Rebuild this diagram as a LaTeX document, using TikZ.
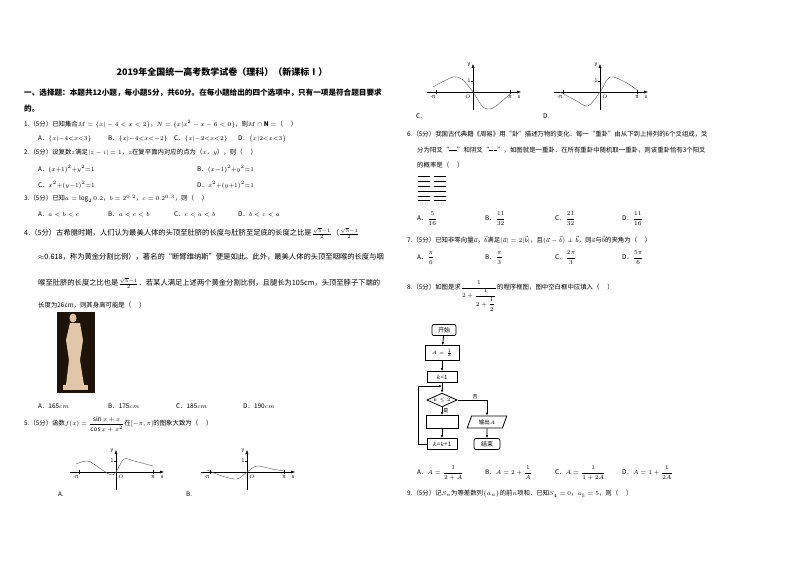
\documentclass[tikz,border=0pt]{standalone}
\usepackage{fontspec}
\usepackage{amsmath}
\setmainfont{Noto Sans CJK SC}
\usetikzlibrary{shapes.geometric,arrows.meta}
\tikzset{
 t/.style={anchor=west,inner sep=0pt,font=\fontsize{6.4pt}{7pt}\selectfont},
 tw/.style={anchor=west,inner sep=0pt,font=\fontsize{7.3pt}{8pt}\selectfont},
 bx/.style={draw,thick,minimum height=14pt,inner sep=1pt,font=\fontsize{6pt}{7pt}\selectfont},
 ar/.style={-{Latex[length=3pt,width=2.5pt]},thick},
 ax/.style={-{Latex[length=4pt,width=3pt]},thin},
 cv/.style={thin,gray!70!black,smooth}
}
\begin{document}
\begin{tikzpicture}[x=1pt,y=-1pt]
\fill[white] (0,0) rectangle (800,565);
\useasboundingbox (0,0) rectangle (800,565);
\node[anchor=center,font=\bfseries\fontsize{9pt}{10pt}\selectfont] (title) at (222,72) {2019年全国统一高考数学试卷（理科）（新课标Ⅰ）};
\node[t,font=\bfseries\fontsize{7.6pt}{8pt}\selectfont] (h1) at (24,93) {一、选择题：本题共12小题，每小题5分，共60分。在每小题给出的四个选项中，只有一项是符合题目要求};
\node[t,font=\bfseries\fontsize{7.6pt}{8pt}\selectfont] (h2) at (24,109) {的。};
\node[t] (q1) at (24,124) {1.（5分）已知集合$M=\{x|-4<x<2\}$，$N=\{x|x^2-x-6<0\}$，则$M\cap\mathbf{N}=$（\quad\ ）};
\node[t] (q1a) at (38,139) {A．$\{x|{-}4{<}x{<}3\}$};
\node[t] (q1b) at (108,139) {B．$\{x|{-}4{<}x{<}{-}2\}$};
\node[t] (q1c) at (174,139) {C．$\{x|{-}2{<}x{<}2\}$};
\node[t] (q1d) at (238,139) {D．$\{x|2{<}x{<}3\}$};
\node[t] (q2) at (24,153) {2.（5分）设复数$z$满足$|z-i|=1$，$z$在复平面内对应的点为（$x$，$y$），则（\quad\ ）};
\node[t] (q2a) at (38,169) {A．$(x{+}1)^2{+}y^2{=}1$};
\node[t] (q2b) at (197,169) {B．$(x{-}1)^2{+}y^2{=}1$};
\node[t] (q2c) at (38,185) {C．$x^2{+}(y{-}1)^2{=}1$};
\node[t] (q2d) at (197,185) {D．$x^2{+}(y{+}1)^2{=}1$};
\node[t] (q3) at (24,199) {3.（5分）已知$a=\log_2 0.2$，$b=2^{0.2}$，$c=0.2^{0.3}$，则（\quad\ ）};
\node[t] (q3a) at (38,214) {A．$a<b<c$};
\node[t] (q3b) at (108,214) {B．$a<c<b$};
\node[t] (q3c) at (174,214) {C．$c<a<b$};
\node[t] (q3d) at (238,214) {D．$b<c<a$};
\node[tw] (q4) at (24,233) {4.（5分）古希腊时期，人们认为最美人体的头顶至肚脐的长度与肚脐至足底的长度之比是$\frac{\sqrt5-1}{2}$（$\frac{\sqrt5-1}{2}$};
\node[tw] (q4b) at (38,257) {$\approx$0.618，称为黄金分割比例），著名的“断臂维纳斯”便是如此。此外，最美人体的头顶至咽喉的长度与咽};
\node[tw] (q4c) at (38,283) {喉至肚脐的长度之比也是$\frac{\sqrt5-1}{2}$．若某人满足上述两个黄金分割比例，且腿长为105cm，头顶至脖子下端的};
\node[t] (q4d) at (38,305) {长度为26cm，则其身高可能是（\quad\ ）};
\fill[black!85!brown] (57,312) rectangle (95,393);
\fill[brown!45!white] (73,318) ellipse (3.5 and 4.5);
\fill[brown!45!white] (70,323) -- (80,323) -- (83,340) -- (80,360) -- (84,385) -- (66,385) -- (69,360) -- (66,340) -- cycle;
\fill[brown!45!white] (63,385) rectangle (88,390);
\node[t] (q4a1) at (38,406) {A．165$cm$};
\node[t] (q4a2) at (108,406) {B．175$cm$};
\node[t] (q4a3) at (176,406) {C．185$cm$};
\node[t] (q4a4) at (243,406) {D．190$cm$};
\node[t] (q5) at (24,424) {5.（5分）函数$f(x)=\dfrac{\sin x+x}{\cos x+x^2}$在$[-\pi,\pi]$的图象大致为（\quad\ ）};
% graphs
\begin{scope}[shift={(116,472)},yscale=-1]
\draw[ax] (-46,0)--(48,0); \draw[ax] (0,-18)--(0,22);
\draw[cv] plot coordinates {(-40,8)(-28,11)(-15,3)(-5,-3)(0,0)(8,13)(18,11)(37,6)};
\draw (-37,-2)--(-37,2) (37,-2)--(37,2) (-2,11)--(0,11);
\node[font=\tiny] (ga1) at (-40,-5) {-π}; \node[font=\tiny] (ga2) at (37,-5) {π}; \node[font=\tiny] (ga3) at (46,-5) {x};
\node[font=\tiny] (ga4) at (5,-5) {$O$}; \node[font=\tiny] (ga5) at (-4,11) {1}; \node[font=\tiny] (ga6) at (-4,21) {y};
\end{scope}
\node[t] (la) at (58,494) {A.};
\begin{scope}[shift={(247,472)},yscale=-1]
\draw[ax] (-46,0)--(48,0); \draw[ax] (0,-18)--(0,22);
\draw[cv] plot coordinates {(-40,2)(-25,-4)(-10,-7)(0,0)(10,6)(25,3)(37,1)};
\draw (-37,-2)--(-37,2) (37,-2)--(37,2) (-2,11)--(0,11);
\node[font=\tiny] (gb1) at (-40,-5) {-π}; \node[font=\tiny] (gb2) at (37,-5) {π}; \node[font=\tiny] (gb3) at (46,-5) {x};
\node[font=\tiny] (gb4) at (5,-5) {$O$}; \node[font=\tiny] (gb5) at (-4,11) {1}; \node[font=\tiny] (gb6) at (-4,21) {y};
\end{scope}
\node[t] (lb) at (186,494) {B.};
\begin{scope}[shift={(473,92)},yscale=-1]
\draw[ax] (-46,0)--(48,0); \draw[ax] (0,-18)--(0,28);
\draw[cv] plot coordinates {(-40,5)(-20,15)(-10,12)(0,0)(10,-15)(20,-16)(37,-2)};
\draw (-37,-2)--(-37,2) (37,-2)--(37,2) (-2,11)--(0,11);
\node[font=\tiny] (gc1) at (-40,-5) {-π}; \node[font=\tiny] (gc2) at (37,-5) {π}; \node[font=\tiny] (gc3) at (46,-5) {x};
\node[font=\tiny] (gc4) at (-5,-5) {$O$}; \node[font=\tiny] (gc5) at (-4,11) {1}; \node[font=\tiny] (gc6) at (-4,27) {y};
\end{scope}
\node[t] (lc) at (416,116) {C.};
\begin{scope}[shift={(600,92)},yscale=-1]
\draw[ax] (-46,0)--(48,0); \draw[ax] (0,-18)--(0,28);
\draw[cv] plot coordinates {(-40,0)(-25,-8)(-12,-14)(0,0)(10,15)(25,10)(37,2)};
\draw (-37,-2)--(-37,2) (37,-2)--(37,2) (-2,11)--(0,11);
\node[font=\tiny] (gd1) at (-40,-5) {-π}; \node[font=\tiny] (gd2) at (37,-5) {π}; \node[font=\tiny] (gd3) at (46,-5) {x};
\node[font=\tiny] (gd4) at (5,-5) {$O$}; \node[font=\tiny] (gd5) at (-4,11) {1}; \node[font=\tiny] (gd6) at (-4,27) {y};
\end{scope}
\node[t] (ld) at (543,116) {D.};
\node[t] (q6) at (407,134) {6.（5分）我国古代典籍《周易》用“卦”描述万物的变化．每一“重卦”由从下到上排列的6个爻组成，爻};
\node[t] (q6b) at (417,150) {分为阳爻“\rule[0.3ex]{8pt}{1pt}”和阴爻“\rule[0.3ex]{3.5pt}{1pt}\,\rule[0.3ex]{3.5pt}{1pt}”，如图就是一重卦．在所有重卦中随机取一重卦，则该重卦恰有3个阳爻};
\node[t] (q6c) at (417,165) {的概率是（\quad\ ）};
\foreach \yy in {176,181,186,196,200}{\draw[thick] (418,\yy)--(430,\yy) (434,\yy)--(446,\yy);}
\draw[thick] (418,191)--(446,191);
\node[t] (q6a1) at (417,219) {A．$\dfrac{5}{16}$};
\node[t] (q6a2) at (485,219) {B．$\dfrac{11}{32}$};
\node[t] (q6a3) at (555,219) {C．$\dfrac{21}{32}$};
\node[t] (q6a4) at (622,219) {D．$\dfrac{11}{16}$};
\node[t] (q7) at (407,240) {7.（5分）已知非零向量$\vec a$，$\vec b$满足$|\vec a|=2|\vec b|$，且$(\vec a-\vec b)\perp\vec b$，则$\vec a$与$\vec b$的夹角为（\quad\ ）};
\node[t] (q7a1) at (417,258) {A．$\dfrac{\pi}{6}$};
\node[t] (q7a2) at (485,258) {B．$\dfrac{\pi}{3}$};
\node[t] (q7a3) at (555,258) {C．$\dfrac{2\pi}{3}$};
\node[t] (q7a4) at (622,258) {D．$\dfrac{5\pi}{6}$};
\node[t] (q8) at (407,296) {8.（5分）如图是求$\dfrac{1}{2+\dfrac{1}{2+\dfrac12}}$的程序框图，图中空白框中应填入（\quad\ ）};
% flowchart
\node[bx,rounded corners=2pt,minimum width=24pt,minimum height=11pt] (s) at (444,330) {开始};
\node[bx,minimum width=34pt,minimum height=15pt,font=\fontsize{5pt}{6pt}\selectfont] (a) at (442,353) {$A=\frac12$};
\node[bx,minimum width=30pt,minimum height=11pt] (k) at (442,377) {$k$=1};
\node[draw,thick,diamond,aspect=2.2,inner sep=0.5pt,font=\fontsize{5.5pt}{6pt}\selectfont] (d) at (442,400) {$k\le2$};
\node[bx,minimum width=32pt,minimum height=13pt] (e) at (442,422) {};
\node[bx,minimum width=30pt,minimum height=11pt] (kk) at (442,444) {$k$=$k$+1};
\node[draw,thick,trapezium,trapezium left angle=70,trapezium right angle=110,inner sep=1pt,minimum height=12pt,font=\fontsize{5.5pt}{6pt}\selectfont] (o) at (487,422) {输出$A$};
\node[bx,rounded corners=2pt,minimum width=26pt,minimum height=11pt] (end) at (487,444) {结束};
\draw[ar] (s)--(a); \draw[ar] (a)--(k); \draw[ar] (k)--(d);
\draw[ar] (d)--(e) node[pos=0.4,right,font=\tiny,inner sep=1pt] (yes) {是};
\draw[ar] (e)--(kk);
\draw[ar] (d.east)-|(o.north) node[pos=0.3,above,font=\tiny,inner sep=1pt] (no) {否};
\draw[ar] (o)--(end);
\coordinate (lp) at (442,386);
\draw[ar] (kk.west)-|(418,386)--(lp);
\node[t] (q8a1) at (417,473) {A．$A=\dfrac{1}{2+A}$};
\node[t] (q8a2) at (485,473) {B．$A=2+\dfrac{1}{A}$};
\node[t] (q8a3) at (555,473) {C．$A=\dfrac{1}{1+2A}$};
\node[t] (q8a4) at (622,473) {D．$A=1+\dfrac{1}{2A}$};
\node[t] (q9) at (407,494) {9.（5分）记$S_n$为等差数列$\{a_n\}$的前$n$项和．已知$S_4=0$，$a_5=5$，则（\quad\ ）};
\end{tikzpicture}
\end{document}
